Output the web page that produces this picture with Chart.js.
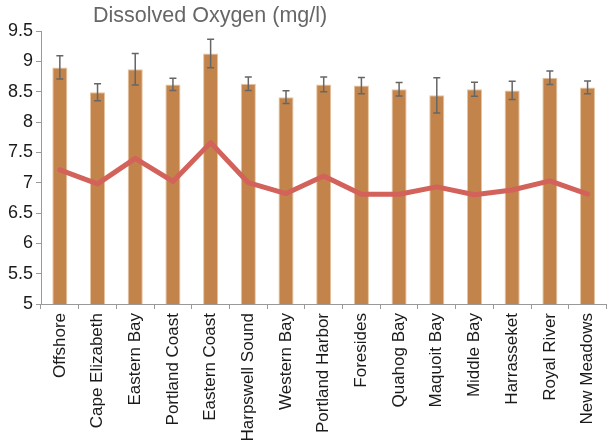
<!DOCTYPE html>
<html>
<head>
<meta charset="utf-8">
<script src="https://cdn.jsdelivr.net/npm/chart.js@4"></script>
<style>
  html, body { margin: 0; padding: 0; background: #fff; overflow: hidden; }
  #wrap { position: relative; width: 612px; height: 448px; }
  #title {
    position: absolute; left: 93px; top: 3px;
    font-family: "Liberation Sans", Arial, sans-serif;
    font-size: 21.5px; color: #666;
  }
</style>
</head>
<body>
<div id="wrap">
  <canvas id="doChart" width="612" height="448"></canvas>
  <div id="title">Dissolved Oxygen (mg/l)</div>
</div>
<script>
// sites along the x axis
const sites = ['Offshore', 'Cape Elizabeth', 'Eastern Bay', 'Portland Coast', 'Eastern Coast',
  'Harpswell Sound', 'Western Bay', 'Portland Harbor', 'Foresides', 'Quahog Bay',
  'Maquoit Bay', 'Middle Bay', 'Harrasseket', 'Royal River', 'New Meadows'];

// mean dissolved oxygen (bars)
const meanDO = [8.90, 8.49, 8.87, 8.62, 9.13, 8.63, 8.41, 8.62, 8.60, 8.54, 8.44, 8.54, 8.52, 8.73, 8.57];
// error bar half-lengths
const errDO = [0.19, 0.14, 0.26, 0.10, 0.235, 0.11, 0.105, 0.12, 0.135, 0.11, 0.29, 0.115, 0.15, 0.11, 0.105];
// lower line
const lineDO = [7.21, 6.98, 7.40, 7.02, 7.66, 7.00, 6.82, 7.11, 6.81, 6.81, 6.93, 6.80, 6.88, 7.03, 6.81];

// y axis ticks
const yMin = 5, yMax = 9.5, yStep = 0.5;

const errorBars = {
  id: 'errorBars',
  afterDatasetsDraw(chart) {
    const ctx = chart.ctx;
    const meta = chart.getDatasetMeta(0);
    const y = chart.scales.y;
    ctx.save();
    ctx.strokeStyle = '#666';
    ctx.lineWidth = 1.5;
    meta.data.forEach((bar, i) => {
      const top = y.getPixelForValue(meanDO[i] + errDO[i]);
      const bot = y.getPixelForValue(meanDO[i] - errDO[i]);
      ctx.beginPath();
      ctx.moveTo(bar.x, top); ctx.lineTo(bar.x, bot);
      ctx.moveTo(bar.x - 3.5, top); ctx.lineTo(bar.x + 3.5, top);
      ctx.moveTo(bar.x - 3.5, bot); ctx.lineTo(bar.x + 3.5, bot);
      ctx.stroke();
    });
    ctx.restore();
  }
};

const ctx = document.getElementById('doChart').getContext('2d');
const myChart = new Chart(ctx, {
  type: 'bar',
  data: {
    labels: sites,
    datasets: [
      {
        type: 'bar',
        data: meanDO,
        backgroundColor: '#C2844A',
        borderColor: '#E6C4A0',
        borderWidth: 1,
        barPercentage: 0.4,
        categoryPercentage: 1,
        order: 2
      },
      {
        type: 'line',
        data: lineDO,
        borderColor: '#D2625A',
        borderWidth: 5,
        pointRadius: 0,
        tension: 0,
        borderJoinStyle: 'round',
        borderCapStyle: 'round',
        order: 1
      }
    ]
  },
  options: {
    responsive: false,
    animation: false,
    layout: { padding: { top: 31, right: 1, left: 0, bottom: 0 } },
    plugins: { legend: { display: false }, tooltip: { enabled: false }, title: { display: false } },
    scales: {
      x: {
        afterFit(scale) { scale.height = 144; },
        border: { color: '#999', width: 1 },
        grid: { drawOnChartArea: false, offset: true, tickLength: 5, color: '#999' },
        ticks: {
          maxRotation: 90, minRotation: 90, autoSkip: false,
          color: '#1a1a1a', padding: 4,
          font: { family: '"Liberation Sans", Arial, sans-serif', size: 17 }
        }
      },
      y: {
        min: yMin, max: yMax,
        afterFit(scale) { scale.width = 41; },
        border: { color: '#999', width: 1 },
        grid: { drawOnChartArea: false, tickLength: 5, color: '#999' },
        ticks: {
          stepSize: yStep,
          color: '#1a1a1a', padding: 3,
          font: { family: '"Liberation Sans", Arial, sans-serif', size: 18 },
          callback: v => String(v)
        }
      }
    }
  },
  plugins: [errorBars]
});
</script>
</body>
</html>
